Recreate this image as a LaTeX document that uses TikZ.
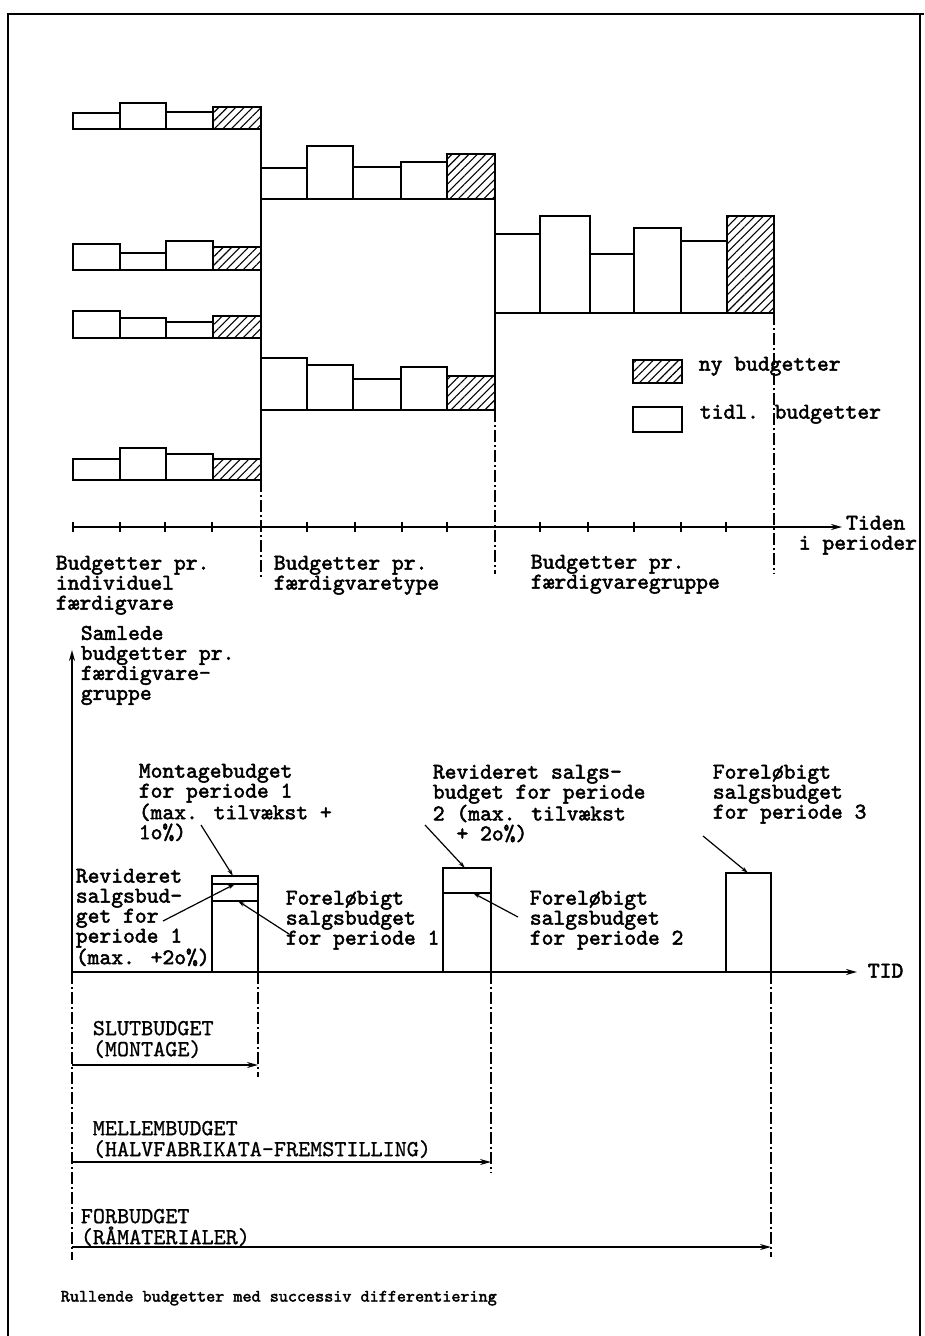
\documentclass[tikz,border=0pt]{standalone}
\usepackage{fontspec}
\newfontfamily\twb[Extension=.otf,FakeBold=2.2]{lmmono10-regular}
\newfontfamily\twr[Extension=.otf,FakeBold=0.8]{lmmono10-regular}
\usetikzlibrary{arrows.meta,patterns.meta}
\newcommand\budgetrow[3]{%
  \foreach \a/\b/\t in {#2} {\draw[plainbar] (\a,#1) rectangle (\b,\t);}
  \foreach \a/\b/\t in {#3} {\draw[newbar] (\a,#1) rectangle (\b,\t);}
}
\begin{document}
\begin{tikzpicture}[x=1pt,y=-1pt,line width=1.7pt,
  plainbar/.style={draw,fill=white,line width=1.6pt},
  newbar/.style={draw,line width=1.6pt,pattern={Lines[angle=45,distance=6pt,line width=1.1pt]}},
  dashdot/.style={line width=1.5pt,dash pattern=on 12pt off 3pt on 2pt off 3pt},
  lbl/.style={font={\twb\fontsize{22.5}{20}\selectfont},anchor=north west,inner sep=0pt,align=left},
  caps/.style={font={\twr\fontsize{23}{21}\selectfont},anchor=north west,inner sep=0pt,align=left},
  ptr/.style={line width=1.2pt,-{Stealth[length=7pt,width=4pt]}},
  axarrow/.style={line width=1.7pt,-{Stealth[length=11pt,width=6pt]}},
  tick/.style={line width=1.3pt}]
\useasboundingbox (0,0) rectangle (924,1336);
\fill[white] (0,0) rectangle (924,1336);
% frame
\draw[line width=2pt] (8,1336) -- (8,14) -- (924,14);
\draw[line width=1.6pt] (920,14) -- (920,1336);

% ---------- upper part: group 1
\budgetrow{129}{73/120/113,120/166/103,166/213/112}{213/261/107}
\budgetrow{270}{73/120/244,120/166/253,166/213/241}{213/261/247}
\budgetrow{338}{73/120/311,120/166/318,166/213/322}{213/261/316}
\budgetrow{480}{73/120/459,120/166/448,166/213/454}{213/261/459}
\draw (261,107) -- (261,480);
\draw[dashdot] (261,480) -- (261,577);
% group 2
\budgetrow{199}{261/307/168,307/353/146,353/401/167,401/447/162}{447/495/154}
\budgetrow{410}{261/307/358,307/353/365,353/401/379,401/447/367}{447/495/376}
\draw (495,154) -- (495,410);
\draw[dashdot] (495,410) -- (495,574);
% group 3
\budgetrow{313}{495/540/234,540/590/216,590/634/254,634/681/228,681/727/241}{727/774/216}
\draw[dashdot] (774,313) -- (774,574);

% legend
\draw[newbar] (633,360) rectangle (682,383);
\node[lbl] (legnew) at (698,356) {ny budgetter};
\draw[plainbar] (633,407) rectangle (682,432);
\node[lbl] (legold) at (699,404) {tidl. budgetter};

% time axis
\coordinate (ta0) at (73,527);
\coordinate (ta1) at (842,527);
\draw[axarrow] (ta0) -- (ta1);
\foreach \x in {73,120,165,212,307,355,402,447,540,588,634,681,726}
  {\draw[tick] (\x,522) -- (\x,532);}
\node[lbl] (tiden) at (798,515) {\phantom{xxxx}Tiden\\i perioder};

\node[lbl] (g1) at (55,555) {Budgetter pr.\\individuel\\færdigvare};
\node[lbl] (g2) at (273,555) {Budgetter pr.\\færdigvaretype};
\node[lbl] (g3) at (530,554) {Budgetter pr.\\færdigvaregruppe};

% ---------- lower part
\coordinate (y0) at (72,972);
\coordinate (y1) at (72,650);
\draw[axarrow] (y0) -- (y1);
\node[lbl] (samlede) at (80,625) {Samlede\\budgetter pr.\\færdigvare-\\gruppe};

\coordinate (x1) at (857,972);
\draw[axarrow] (y0) -- (x1);
\node[lbl] (tid) at (867,963) {TID};

% bars
\draw[line width=1.6pt] (212,972) rectangle (258,876);
\draw[line width=1.4pt] (212,884) -- (258,884);
\draw[line width=1.4pt] (212,901) -- (258,901);
\draw[line width=1.6pt] (443,972) rectangle (491,868);
\draw[line width=1.4pt] (443,893) -- (491,893);
\draw[line width=1.6pt] (726,972) rectangle (771,873);

% labels period 1
\node[lbl] (montage) at (138,763) {Montagebudget\\for periode 1\\(max. tilvækst +\\1o\%)};
\coordinate (montageA) at (201,825);
\coordinate (montageB) at (233,876);
\draw[ptr] (montageA) -- (montageB);

\node[lbl] (rev1) at (75,868) {Revideret\\salgsbud-\\get for\\periode 1\\(max. +2o\%)};
\coordinate (rev1A) at (163,921);
\coordinate (rev1B) at (235,884);
\draw[ptr] (rev1A) -- (rev1B);

\node[lbl] (for1) at (285,890) {Foreløbigt\\salgsbudget\\for periode 1};
\coordinate (for1A) at (289,934);
\coordinate (for1B) at (238,901);
\draw[ptr] (for1A) -- (for1B);

% labels period 2
\node[lbl] (rev2) at (432,764) {Revideret salgs-\\budget for periode\\2 (max. tilvækst\\\phantom{xx}+ 2o\%)};
\coordinate (rev2A) at (425,825);
\coordinate (rev2B) at (465,868);
\draw[ptr] (rev2A) -- (rev2B);

\node[lbl] (for2) at (529,890) {Foreløbigt\\salgsbudget\\for periode 2};
\coordinate (for2A) at (518,917);
\coordinate (for2B) at (473,893);
\draw[ptr] (for2A) -- (for2B);

% labels period 3
\node[lbl] (for3) at (712,764) {Foreløbigt\\salgsbudget\\for periode 3};
\coordinate (for3A) at (703,836);
\coordinate (for3B) at (748,873);
\draw[ptr] (for3A) -- (for3B);

% ---------- budget horizons
\draw[dashdot] (72,972) -- (72,1260);
\draw[dashdot] (258,972) -- (258,1077);
\draw[dashdot] (491,972) -- (491,1173);
\draw[dashdot] (771,972) -- (771,1257);

\node[caps] (slut) at (92,1020) {SLUTBUDGET\\(MONTAGE)};
\coordinate (slutA) at (72,1065);
\coordinate (slutB) at (258,1065);
\draw[axarrow,line width=1.4pt] (slutA) -- (slutB);

\node[caps] (mellem) at (92,1120) {MELLEMBUDGET\\(HALVFABRIKATA-FREMSTILLING)};
\coordinate (mellemA) at (72,1162);
\coordinate (mellemB) at (491,1162);
\draw[axarrow,line width=1.4pt] (mellemA) -- (mellemB);

\node[caps] (forb) at (80,1208) {FORBUDGET\\(RÅMATERIALER)};
\coordinate (forbA) at (72,1247);
\coordinate (forbB) at (771,1247);
\draw[axarrow,line width=1.4pt] (forbA) -- (forbB);

\node[font={\twb\fontsize{17.3}{18}\selectfont},anchor=north west,inner sep=0pt] (caption) at (60,1290) {Rullende budgetter med successiv differentiering};
\end{tikzpicture}
\end{document}
